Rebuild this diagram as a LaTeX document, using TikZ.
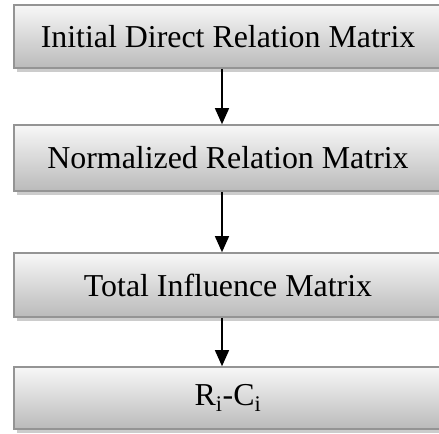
\documentclass[tikz,border=0pt]{standalone}
\usepackage{fontspec}
\setmainfont{Liberation Serif}
\usetikzlibrary{arrows.meta,shadows}
\begin{document}
\begin{tikzpicture}[x=1bp,y=1bp,
  stepbox/.style={draw=black!42, line width=1.6bp, top color=black!3, bottom color=black!27,
    minimum width=428bp, inner sep=0pt, font=\fontsize{32}{37}\selectfont,
    drop shadow={shadow xshift=3bp, shadow yshift=-4bp, fill=black!20, opacity=1}},
  arr/.style={line width=1.4bp, -{Triangle[width=14bp,length=16bp]}}]
\clip (0,0) rectangle (439,434);
\useasboundingbox (0,0) rectangle (439,434);
\node[stepbox, minimum height=63bp] (b1) at (228,397.5) {Initial Direct Relation Matrix};
\node[stepbox, minimum height=66bp] (b2) at (228,276) {Normalized Relation Matrix};
\node[stepbox, minimum height=64bp] (b3) at (228,149) {Total Influence Matrix};
\node[stepbox, minimum height=62bp] (b4) at (228,36) {R\textsubscript{i}-C\textsubscript{i}};
\draw[arr] ([xshift=-6bp]b1.south) -- ([xshift=-6bp]b2.north);
\draw[arr] ([xshift=-6bp]b2.south) -- ([xshift=-6bp]b3.north);
\draw[arr] ([xshift=-6bp]b3.south) -- ([xshift=-6bp]b4.north);
\end{tikzpicture}
\end{document}
